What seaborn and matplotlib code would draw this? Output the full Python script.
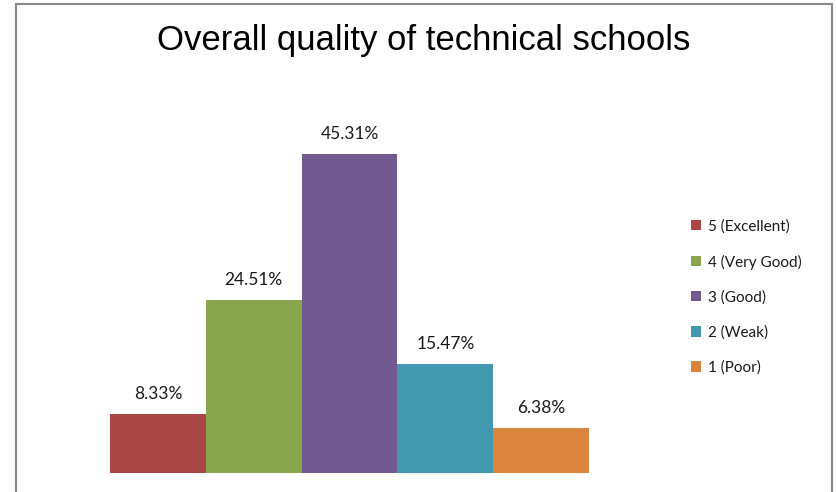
import matplotlib
matplotlib.use('Agg')
import matplotlib.pyplot as plt
import seaborn as sns
from matplotlib.patches import Rectangle

# Daten
kategorien = ['5 (Excellent)', '4 (Very Good)', '3 (Good)', '2 (Weak)', '1 (Poor)']
anteile = [8.33, 24.51, 45.31, 15.47, 6.38]
farben = ['#AA4643', '#89A54E', '#71588F', '#4198AF', '#DB843D']

sns.set_style('white')
plt.rcParams['font.family'] = ['Lato', 'DejaVu Sans']

fig = plt.figure(figsize=(8.36, 4.92), dpi=100)
ax = fig.add_axes([0.1316, 0.0386, 0.573, 0.7154])

sns.barplot(x=kategorien, y=anteile, hue=kategorien, palette=farben,
            width=1.0, legend=True, ax=ax, saturation=1, linewidth=0)

ax.set_xlim(-0.5, 4.5)
ax.set_ylim(0, 50)
for cont in ax.containers:
    ax.bar_label(cont, fmt='%.2f%%', padding=9, fontsize=12.5, color='#1a1a1a')

ax.set_xticks([])
ax.set_yticks([])
ax.set_xlabel('')
ax.set_ylabel('')
sns.despine(ax=ax, left=True, bottom=True)

# Legende rechts
handles, labels = ax.get_legend_handles_labels()
ax.get_legend().remove()
fig.legend(handles, labels, loc='center left', bbox_to_anchor=(0.8266, 0.396),
           frameon=False, fontsize=11, handlelength=0.65, handleheight=0.65,
           handletextpad=0.45, labelspacing=1.36, borderpad=0, borderaxespad=0,
           labelcolor='#1a1a1a')

fig.text(0.507, 0.918, 'Overall quality of technical schools', ha='center', va='center',
         fontsize=25, family='Liberation Sans', color='black')

# Rahmen
fig.patches.append(Rectangle((16 / 836, -0.1), (832 - 16) / 836, 1.1 - 4 / 492,
                             transform=fig.transFigure, fill=False,
                             edgecolor='#888888', linewidth=1.5))

fig.savefig('out.png', dpi=100, facecolor='white')
